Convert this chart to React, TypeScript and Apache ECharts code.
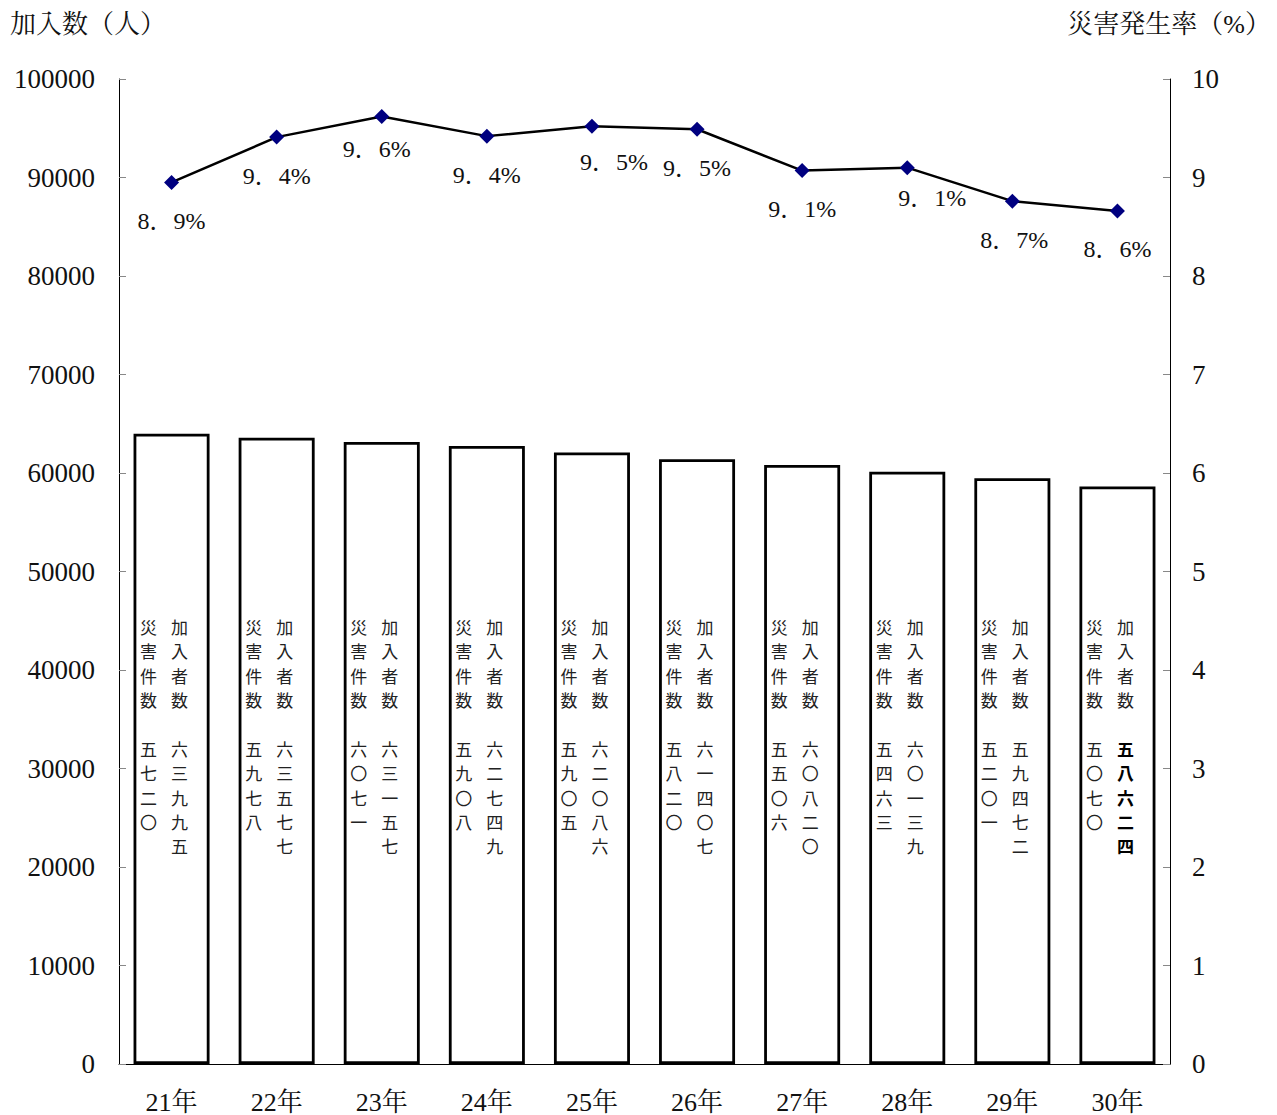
import React, { useEffect, useRef } from "react";
import * as echarts from "echarts";

const categories = ["21年", "22年", "23年", "24年", "25年", "26年", "27年", "28年", "29年", "30年"];
const members = [63995, 63577, 63157, 62749, 62086, 61407, 60820, 60139, 59472, 58624];
const accidents = [5720, 5978, 6071, 5908, 5905, 5820, 5506, 5463, 5201, 5070];
const rates = [8.95, 9.41, 9.62, 9.42, 9.52, 9.49, 9.07, 9.1, 8.76, 8.66];
const rateLabels = ["8．9%", "9．4%", "9．6%", "9．4%", "9．5%", "9．5%", "9．1%", "9．1%", "8．7%", "8．6%"];
const leftTicks = [0, 10000, 20000, 30000, 40000, 50000, 60000, 70000, 80000, 90000, 100000];
const rightTicks = [0, 1, 2, 3, 4, 5, 6, 7, 8, 9, 10];

// label nudges (style only)
const labelNudgeX = [0, 0, -5, 0, 22, 0, 0, 25, 2, 0];
const labelNudgeY = [0, 0, -6, 0, -3, 0, 0, -8, 0, 0];

const KANJI = ["〇", "一", "二", "三", "四", "五", "六", "七", "八", "九"];
const toKanji = (n: number) => String(n).split("").map((d) => KANJI[Number(d)]).join("\n");

const SERIF = "Liberation Serif, Noto Serif CJK JP, Noto Sans CJK JP, serif";
const CJK = "Noto Sans CJK JP, sans-serif";

export default function App() {
  const ref = useRef<HTMLDivElement>(null);
  useEffect(() => {
    document.body.style.margin = "0";
    const chart = echarts.init(ref.current!, null, { renderer: "svg" });
    const LH = 24.4;
    const option: any = {
      animation: false,
      backgroundColor: "#fff",
      grid: { left: 119, right: 107, top: 79, bottom: 51 },
      graphic: [
        { type: "text", left: 10, top: 11, style: { text: "加入数（人）", fontSize: 26, fontFamily: SERIF, fill: "#111" } },
        { type: "text", right: 6, top: 11, style: { text: "災害発生率（%）", fontSize: 26, fontFamily: SERIF, fill: "#111" } },
      ],
      xAxis: {
        type: "category",
        data: categories,
        axisLine: { lineStyle: { color: "#000", width: 1 } },
        axisTick: { show: false },
        axisLabel: { color: "#111", fontSize: 26, fontFamily: SERIF, margin: 25 },
      },
      yAxis: [
        {
          type: "value",
          min: 0,
          max: 100000,
          interval: 10000,
          splitLine: { show: false },
          axisLine: { show: true, lineStyle: { color: "#000", width: 1 } },
          axisTick: { show: true, inside: true, length: 7, lineStyle: { color: "#888" } },
          axisLabel: { color: "#111", fontSize: 27, fontFamily: SERIF, margin: 24, formatter: (v: number) => (leftTicks.includes(v) ? String(v) : "") },
        },
        {
          type: "value",
          min: 0,
          max: 10,
          interval: 1,
          position: "right",
          splitLine: { show: false },
          axisLine: { show: true, lineStyle: { color: "#000", width: 1 } },
          axisTick: { show: true, inside: true, length: 7, lineStyle: { color: "#888" } },
          axisLabel: { color: "#111", fontSize: 27, fontFamily: SERIF, margin: 22, formatter: (v: number) => (rightTicks.includes(v) ? String(v) : "") },
        },
      ],
      series: [
        {
          type: "bar",
          yAxisIndex: 0,
          data: members,
          barWidth: 76,
          itemStyle: { color: "#fff", borderColor: "#000", borderWidth: 2.8 },
          z: 2,
        },
        {
          type: "custom",
          yAxisIndex: 0,
          z: 5,
          data: members.map((m, i) => [i, m, accidents[i]]),
          renderItem: (params: any, api: any) => {
            const i = api.value(0);
            const base = api.coord([i, 0]);
            const top = base[1] - 450;
            const bold = i === members.length - 1;
            const common = {
              fontSize: 17,
              lineHeight: LH,
              fontFamily: CJK,
              fill: "#222",
              align: "center",
              verticalAlign: "top",
            };
            return {
              type: "group",
              children: [
                { type: "text", x: base[0] + 8, y: top, style: { ...common, text: "加\n入\n者\n数" } },
                {
                  type: "text",
                  x: base[0] + 8,
                  y: top + LH * 5,
                  style: { ...common, text: toKanji(api.value(1)), fontWeight: bold ? "bold" : "normal", fill: bold ? "#000" : "#222" },
                },
                { type: "text", x: base[0] - 23, y: top, style: { ...common, text: "災\n害\n件\n数" } },
                { type: "text", x: base[0] - 23, y: top + LH * 5, style: { ...common, text: toKanji(api.value(2)) } },
              ],
            };
          },
        },
        {
          type: "line",
          yAxisIndex: 1,
          z: 6,
          data: rates.map((r, i) => ({
            value: r,
            label: { offset: [labelNudgeX[i], labelNudgeY[i]] },
          })),
          symbol: "diamond",
          symbolSize: 15,
          lineStyle: { color: "#000", width: 2.5 },
          itemStyle: { color: "#000080" },
          label: {
            show: true,
            position: "bottom",
            distance: 19,
            color: "#111",
            fontSize: 24,
            fontFamily: SERIF,
            formatter: (p: any) => rateLabels[p.dataIndex],
          },
        },
      ],
    };
    chart.setOption(option);
    return () => chart.dispose();
  }, []);
  return <div ref={ref} style={{ width: 1277, height: 1115 }} />;
}
